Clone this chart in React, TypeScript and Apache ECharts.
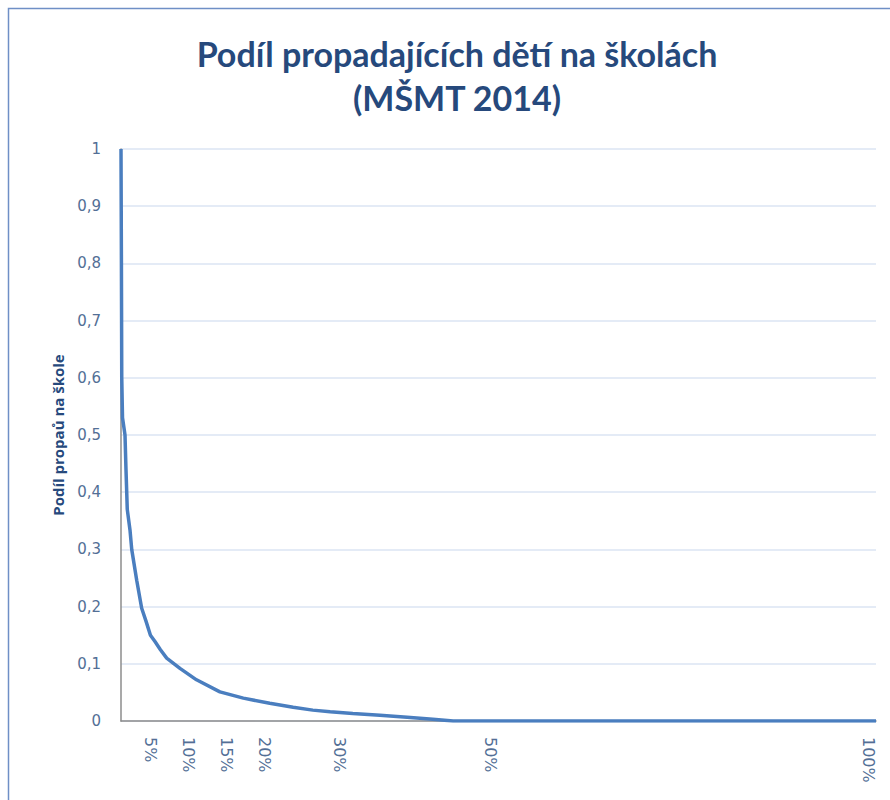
import React, { useEffect, useRef } from "react";
import * as echarts from "echarts";

const titleLines = ["Podíl propadajících dětí na školách", "(MŠMT 2014)"];
const yAxisName = "Podíl propaů na škole";
// share of schools (%) -> share of failing children
const schoolShare = [0, 0.05, 0.1, 0.2, 0.53, 0.66, 0.83, 1.19, 1.42, 2.08, 2.74, 3.3, 3.9, 4.5, 5.2, 6.05, 7.81, 10, 13.1, 16.2, 19.7, 22.8, 25.4, 27.7, 30.7, 34.3, 37.9, 41.3, 44, 100];
const failShare = [1, 0.82, 0.6, 0.53, 0.5, 0.44, 0.37, 0.334, 0.3, 0.246, 0.197, 0.175, 0.15, 0.139, 0.125, 0.11, 0.092, 0.072, 0.051, 0.04, 0.031, 0.024, 0.019, 0.016, 0.013, 0.01, 0.0065, 0.003, 0, 0];
const xTickValues = [5, 10, 15, 20, 30, 50, 100];
const yTicks = [0, 0.1, 0.2, 0.3, 0.4, 0.5, 0.6, 0.7, 0.8, 0.9, 1];

export default function App() {
  const ref = useRef<HTMLDivElement>(null);
  useEffect(() => {
    if (!ref.current) return;
    const chart = echarts.init(ref.current, undefined, { renderer: "svg" });
    const labelColor = "#536f96";
    const titleStyle = {
      fontFamily: "Lato",
      fontWeight: "bold",
      fontSize: 34,
      lineHeight: 41,
      color: "#26497c",
    };
    chart.setOption({
      animation: false,
      backgroundColor: "#ffffff",
      title: [
        { text: titleLines[0], left: 457, textAlign: "center", top: 33, padding: 0, textStyle: titleStyle },
        { text: titleLines[1], left: 457, textAlign: "center", top: 77, padding: 0, textStyle: titleStyle },
      ],
      graphic: [
        {
          type: "rect",
          shape: { x: 8.5, y: 8.5, width: 1000, height: 1000 },
          style: { fill: "none", stroke: "#6f8fc6", lineWidth: 1.5 },
          silent: true,
        },
      ],
      grid: { left: 121, right: 14, top: 149, bottom: 79 },
      xAxis: {
        type: "value",
        min: 0,
        max: 100,
        axisLine: { show: true, onZero: false, lineStyle: { color: "#8c8c8c", width: 1.5 } },
        axisTick: { show: false },
        splitLine: { show: false },
        axisLabel: {
          customValues: xTickValues,
          rotate: -90,
          margin: 16,
          verticalAlign: "top",
          color: labelColor,
          fontFamily: "DejaVu Sans",
          fontSize: 16,
          formatter: (v: number) => v + "%",
        },
      },
      yAxis: {
        type: "value",
        min: 0,
        max: 1,
        interval: 0.1,
        name: yAxisName,
        nameLocation: "middle",
        nameRotate: 90,
        nameGap: 56,
        nameTextStyle: {
          fontFamily: "Open Sans",
          fontWeight: "bold",
          fontSize: 15,
          color: "#26497c",
        },
        axisLine: { show: true, lineStyle: { color: "#8c8c8c", width: 1.5 } },
        axisTick: { show: false },
        splitLine: { show: true, lineStyle: { color: "#dbe5f3", width: 1.5 } },
        axisLabel: {
          margin: 20,
          color: labelColor,
          fontFamily: "DejaVu Sans",
          fontSize: 15,
          formatter: (v: number) => {
            const r = yTicks.find((t) => Math.abs(t - v) < 1e-6);
            const val = r !== undefined ? r : v;
            return String(Math.round(val * 10) / 10).replace(".", ",");
          },
        },
      },
      series: [
        {
          type: "line",
          data: schoolShare.map((x, i) => [x, failShare[i]]),
          showSymbol: false,
          lineStyle: { color: "#4a7ebf", width: 3.5 },
          z: 5,
        },
      ],
    });
    return () => chart.dispose();
  }, []);
  return (
    <div
      ref={ref}
      style={{ position: "fixed", left: 0, top: 0, width: 890, height: 800 }}
    />
  );
}
